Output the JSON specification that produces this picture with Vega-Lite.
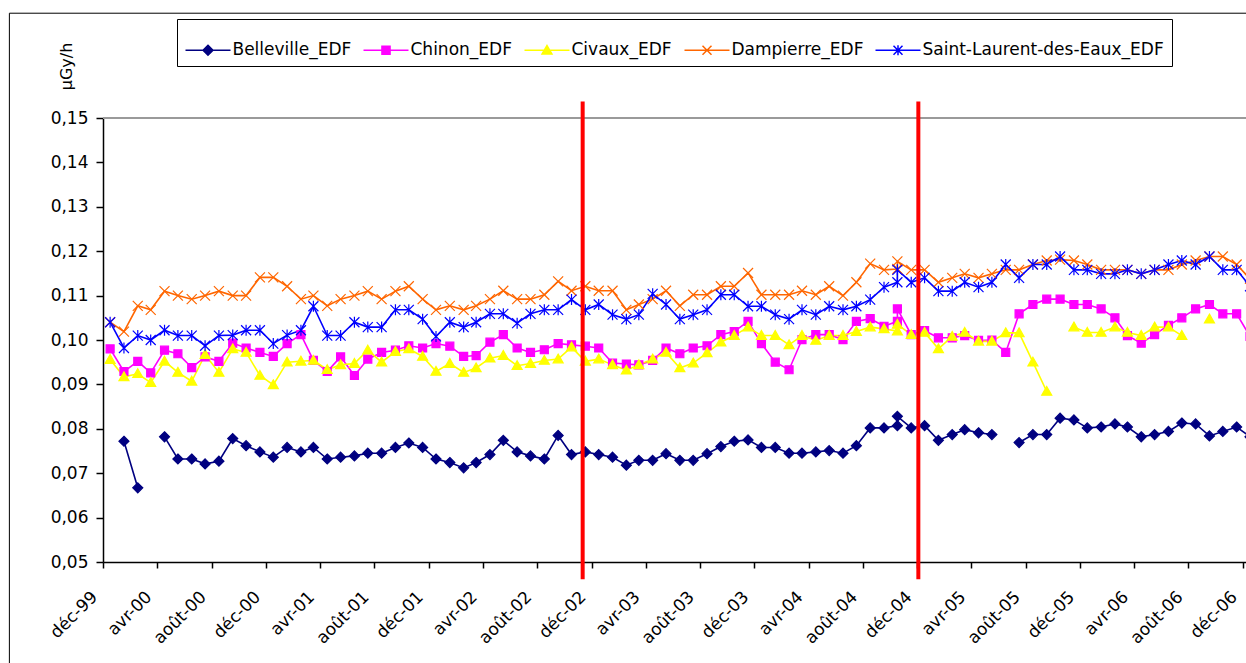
{
  "$schema": "https://vega.github.io/schema/vega-lite/v6.json",
  "width": 1143,
  "height": 444,
  "autosize": {"type": "none"},
  "padding": {"left": 103, "top": 118, "right": 0, "bottom": 101},
  "background": "white",
  "usermeta": {"embedOptions": {"actions": false}},
  "config": {"view": {"stroke": null}, "font": "DejaVu Sans"},
  "layer": [
    {
      "data": {"values": [{}]},
      "mark": {"type": "rect", "fill": "white", "fillOpacity": 0, "stroke": "black", "strokeWidth": 1, "clip": false},
      "encoding": {
        "x": {"datum": {"year": 1999, "month": 4, "date": 19}, "type": "temporal", "scale": {"domain": [{"year": 1999, "month": 11, "date": 15}, {"year": 2006, "month": 11, "date": 22}]}},
        "x2": {"datum": {"year": 2008, "month": 6, "date": 1}},
        "y": {"datum": 0.1736, "type": "quantitative", "scale": {"domain": [0.05, 0.15]}},
        "y2": {"datum": 0.0}
      }
    },
    {
      "data": {"values": [{}]},
      "mark": {"type": "rule", "color": "#9a9a9a", "strokeWidth": 2},
      "encoding": {
        "y": {"datum": 0.15, "type": "quantitative", "scale": {"domain": [0.05, 0.15]}}
      }
    },
    {
      "data": {"name": "main"},
      "transform": [{"fold": ["Belleville_EDF", "Chinon_EDF", "Civaux_EDF", "Dampierre_EDF", "Saint-Laurent-des-Eaux_EDF"], "as": ["station", "v"]}],
      "mark": {"type": "line", "strokeWidth": 1.6, "clip": true, "invalid": "break-paths-show-domains"},
      "encoding": {
        "x": {
          "field": "d", "type": "temporal", "title": null,
          "scale": {"domain": [{"year": 1999, "month": 11, "date": 15}, {"year": 2006, "month": 11, "date": 22}]},
          "axis": {
            "values": [
              {"year": 1999, "month": 11, "date": 15}, {"year": 2000, "month": 3, "date": 16}, {"year": 2000, "month": 7, "date": 16},
              {"year": 2000, "month": 11, "date": 15}, {"year": 2001, "month": 3, "date": 16}, {"year": 2001, "month": 7, "date": 16},
              {"year": 2001, "month": 11, "date": 15}, {"year": 2002, "month": 3, "date": 16}, {"year": 2002, "month": 7, "date": 16},
              {"year": 2002, "month": 11, "date": 15}, {"year": 2003, "month": 3, "date": 16}, {"year": 2003, "month": 7, "date": 16},
              {"year": 2003, "month": 11, "date": 15}, {"year": 2004, "month": 3, "date": 16}, {"year": 2004, "month": 7, "date": 16},
              {"year": 2004, "month": 11, "date": 15}, {"year": 2005, "month": 3, "date": 16}, {"year": 2005, "month": 7, "date": 16},
              {"year": 2005, "month": 11, "date": 15}, {"year": 2006, "month": 3, "date": 16}, {"year": 2006, "month": 7, "date": 16},
              {"year": 2006, "month": 11, "date": 15}
            ],
            "labelExpr": "['janv','févr','mars','avr','mai','juin','juil','août','sept','oct','nov','déc'][month(timeOffset('month', datum.value, 1))] + '-' + timeFormat(timeOffset('month', datum.value, 1), '%y')",
            "labelAngle": -45, "labelAlign": "right", "labelBaseline": "middle",
            "labelOffset": -8.7, "labelPadding": 26,
            "tickSize": 6, "tickWidth": 1.5, "tickColor": "black",
            "domainColor": "black", "domainWidth": 1.5,
            "labelFont": "DejaVu Sans", "labelFontSize": 17, "labelColor": "black",
            "labelFlush": false, "labelOverlap": false, "labelBound": false, "grid": false
          }
        },
        "y": {
          "field": "v", "type": "quantitative", "title": "µGy/h",
          "scale": {"domain": [0.05, 0.15]},
          "axis": {
            "values": [0.05, 0.06, 0.07, 0.08, 0.09, 0.10, 0.11, 0.12, 0.13, 0.14, 0.15],
            "labelExpr": "replace(format(datum.value, '.2f'), '.', ',')",
            "tickSize": 7, "tickWidth": 1.5, "tickColor": "black", "labelPadding": 8,
            "domainColor": "black", "domainWidth": 1.5,
            "labelFont": "DejaVu Sans", "labelFontSize": 17, "labelColor": "black",
            "labelFlush": false, "grid": false,
            "titleFont": "DejaVu Sans", "titleFontSize": 16, "titleFontWeight": "normal", "titleColor": "black",
            "titleAngle": -90, "titleX": -32, "titleY": -52, "titleAlign": "center", "titleBaseline": "alphabetic"
          }
        },
        "color": {
          "field": "station", "type": "nominal",
          "scale": {"domain": ["Belleville_EDF", "Chinon_EDF", "Civaux_EDF", "Dampierre_EDF", "Saint-Laurent-des-Eaux_EDF"], "range": ["#000080", "#FF00FF", "#FFFF00", "#FF6600", "#0000FF"]},
          "legend": {
            "orient": "none", "legendX": 74, "legendY": -99, "direction": "horizontal",
            "title": null, "strokeColor": "black", "fillColor": "white", "padding": 7.5,
            "symbolSize": 2025, "symbolStrokeWidth": 1.5,
            "labelFont": "DejaVu Sans", "labelFontSize": 17, "labelColor": "black", "labelOffset": 1, "labelLimit": 400,
            "columnPadding": 9,
            "encode": {
              "symbols": {
                "update": {
                  "shape": {"signal": "datum.value == 'Belleville_EDF' ? 'M-1,0H1M0,-0.22L0.22,0L0,0.22L-0.22,0Z' : datum.value == 'Chinon_EDF' ? 'M-1,0H1M-0.18,-0.18H0.18V0.18H-0.18Z' : datum.value == 'Civaux_EDF' ? 'M-1,0H1M0,-0.21L0.22,0.17L-0.22,0.17Z' : datum.value == 'Dampierre_EDF' ? 'M-1,0H1M-0.2,-0.2L0.2,0.2M-0.2,0.2L0.2,-0.2' : 'M-1,0H1M-0.2,-0.2L0.2,0.2M-0.2,0.2L0.2,-0.2M0,-0.22V0.22'"},
                  "stroke": {"signal": "datum.value == 'Belleville_EDF' ? '#000080' : datum.value == 'Chinon_EDF' ? '#FF00FF' : datum.value == 'Civaux_EDF' ? '#FFFF00' : datum.value == 'Dampierre_EDF' ? '#FF6600' : '#0000FF'"},
                  "fill": {"signal": "datum.value == 'Belleville_EDF' ? '#000080' : datum.value == 'Chinon_EDF' ? '#FF00FF' : datum.value == 'Civaux_EDF' ? '#FFFF00' : 'transparent'"},
                  "strokeWidth": {"value": 1.5},
                  "opacity": {"value": 1}
                }
              }
            }
          }
        }
      }
    },
    {
      "data": {"name": "main"},
      "transform": [{"fold": ["Belleville_EDF", "Chinon_EDF", "Civaux_EDF", "Dampierre_EDF", "Saint-Laurent-des-Eaux_EDF"], "as": ["series", "v"]}],
      "mark": {"type": "point", "filled": true, "size": 100, "strokeWidth": 1.2, "opacity": 1, "clip": true},
      "encoding": {
        "x": {"field": "d", "type": "temporal", "title": null, "scale": {"domain": [{"year": 1999, "month": 11, "date": 15}, {"year": 2006, "month": 11, "date": 22}]}},
        "y": {"field": "v", "type": "quantitative", "title": "µGy/h", "scale": {"domain": [0.05, 0.15]}},
        "fill": {
          "field": "series", "type": "nominal", "legend": null,
          "scale": {"domain": ["Saint-Laurent-des-Eaux_EDF", "Dampierre_EDF", "Civaux_EDF", "Chinon_EDF", "Belleville_EDF"], "range": ["#0000FF", "#FF6600", "#FFFF00", "#FF00FF", "#000080"]}
        },
        "stroke": {
          "field": "series", "type": "nominal", "legend": null,
          "scale": {"domain": ["Dampierre_EDF", "Saint-Laurent-des-Eaux_EDF", "Civaux_EDF", "Chinon_EDF", "Belleville_EDF"], "range": ["#FF6600", "#0000FF", "#FFFF00", "#FF00FF", "#000080"]}
        },
        "shape": {
          "field": "series", "type": "nominal", "legend": null,
          "scale": {"domain": ["Civaux_EDF", "Saint-Laurent-des-Eaux_EDF", "Dampierre_EDF", "Chinon_EDF", "Belleville_EDF"], "range": ["M0,-1L1,0.75L-1,0.75Z", "M-1,-1L1,1M-1,1L1,-1M0,-1.1V1.1", "M-1,-1L1,1M-1,1L1,-1", "M-0.8,-0.8H0.8V0.8H-0.8Z", "M0,-1L1,0L0,1L-1,0Z"]}
        }
      }
    },
    {
      "data": {"values": [{"d": "2002/10/26"}, {"d": "2004/11/17"}]},
      "mark": {"type": "rule", "color": "#FF0000", "strokeWidth": 4, "clip": false},
      "encoding": {
        "x": {"field": "d", "type": "temporal", "title": null, "scale": {"domain": [{"year": 1999, "month": 11, "date": 15}, {"year": 2006, "month": 11, "date": 22}]}},
        "y": {"datum": 0.1537, "type": "quantitative", "scale": {"domain": [0.05, 0.15]}},
        "y2": {"datum": 0.0461}
      }
    }
  ],
  "datasets": {
    "main": [
      {"d": "1999/12/01", "Belleville_EDF": null, "Chinon_EDF": 0.0980, "Civaux_EDF": 0.0956, "Dampierre_EDF": 0.1040, "Saint-Laurent-des-Eaux_EDF": 0.1040},
      {"d": "2000/01/01", "Belleville_EDF": 0.0772, "Chinon_EDF": 0.0929, "Civaux_EDF": 0.0917, "Dampierre_EDF": 0.1019, "Saint-Laurent-des-Eaux_EDF": 0.0982},
      {"d": "2000/02/01", "Belleville_EDF": 0.0667, "Chinon_EDF": 0.0952, "Civaux_EDF": 0.0924, "Dampierre_EDF": 0.1077, "Saint-Laurent-des-Eaux_EDF": 0.1010},
      {"d": "2000/03/01", "Belleville_EDF": null, "Chinon_EDF": 0.0926, "Civaux_EDF": 0.0904, "Dampierre_EDF": 0.1068, "Saint-Laurent-des-Eaux_EDF": 0.1000},
      {"d": "2000/04/01", "Belleville_EDF": 0.0782, "Chinon_EDF": 0.0977, "Civaux_EDF": 0.0952, "Dampierre_EDF": 0.1110, "Saint-Laurent-des-Eaux_EDF": 0.1022},
      {"d": "2000/05/01", "Belleville_EDF": 0.0732, "Chinon_EDF": 0.0969, "Civaux_EDF": 0.0927, "Dampierre_EDF": 0.1100, "Saint-Laurent-des-Eaux_EDF": 0.1010},
      {"d": "2000/06/01", "Belleville_EDF": 0.0732, "Chinon_EDF": 0.0938, "Civaux_EDF": 0.0907, "Dampierre_EDF": 0.1092, "Saint-Laurent-des-Eaux_EDF": 0.1010},
      {"d": "2000/07/01", "Belleville_EDF": 0.0721, "Chinon_EDF": 0.0962, "Civaux_EDF": 0.0967, "Dampierre_EDF": 0.1100, "Saint-Laurent-des-Eaux_EDF": 0.0987},
      {"d": "2000/08/01", "Belleville_EDF": 0.0727, "Chinon_EDF": 0.0952, "Civaux_EDF": 0.0927, "Dampierre_EDF": 0.1110, "Saint-Laurent-des-Eaux_EDF": 0.1010},
      {"d": "2000/09/01", "Belleville_EDF": 0.0778, "Chinon_EDF": 0.0993, "Civaux_EDF": 0.0980, "Dampierre_EDF": 0.1100, "Saint-Laurent-des-Eaux_EDF": 0.1011},
      {"d": "2000/10/01", "Belleville_EDF": 0.0762, "Chinon_EDF": 0.0982, "Civaux_EDF": 0.0972, "Dampierre_EDF": 0.1100, "Saint-Laurent-des-Eaux_EDF": 0.1022},
      {"d": "2000/11/01", "Belleville_EDF": 0.0748, "Chinon_EDF": 0.0972, "Civaux_EDF": 0.0920, "Dampierre_EDF": 0.1141, "Saint-Laurent-des-Eaux_EDF": 0.1022},
      {"d": "2000/12/01", "Belleville_EDF": 0.0736, "Chinon_EDF": 0.0963, "Civaux_EDF": 0.0899, "Dampierre_EDF": 0.1141, "Saint-Laurent-des-Eaux_EDF": 0.0992},
      {"d": "2001/01/01", "Belleville_EDF": 0.0758, "Chinon_EDF": 0.0992, "Civaux_EDF": 0.0950, "Dampierre_EDF": 0.1121, "Saint-Laurent-des-Eaux_EDF": 0.1011},
      {"d": "2001/02/01", "Belleville_EDF": 0.0748, "Chinon_EDF": 0.1012, "Civaux_EDF": 0.0952, "Dampierre_EDF": 0.1092, "Saint-Laurent-des-Eaux_EDF": 0.1022},
      {"d": "2001/03/01", "Belleville_EDF": 0.0758, "Chinon_EDF": 0.0954, "Civaux_EDF": 0.0954, "Dampierre_EDF": 0.1100, "Saint-Laurent-des-Eaux_EDF": 0.1076},
      {"d": "2001/04/01", "Belleville_EDF": 0.0732, "Chinon_EDF": 0.0929, "Civaux_EDF": 0.0933, "Dampierre_EDF": 0.1077, "Saint-Laurent-des-Eaux_EDF": 0.1010},
      {"d": "2001/05/01", "Belleville_EDF": 0.0736, "Chinon_EDF": 0.0962, "Civaux_EDF": 0.0944, "Dampierre_EDF": 0.1092, "Saint-Laurent-des-Eaux_EDF": 0.1010},
      {"d": "2001/06/01", "Belleville_EDF": 0.0739, "Chinon_EDF": 0.0920, "Civaux_EDF": 0.0947, "Dampierre_EDF": 0.1100, "Saint-Laurent-des-Eaux_EDF": 0.1040},
      {"d": "2001/07/01", "Belleville_EDF": 0.0745, "Chinon_EDF": 0.0957, "Civaux_EDF": 0.0977, "Dampierre_EDF": 0.1110, "Saint-Laurent-des-Eaux_EDF": 0.1029},
      {"d": "2001/08/01", "Belleville_EDF": 0.0745, "Chinon_EDF": 0.0972, "Civaux_EDF": 0.0950, "Dampierre_EDF": 0.1092, "Saint-Laurent-des-Eaux_EDF": 0.1029},
      {"d": "2001/09/01", "Belleville_EDF": 0.0758, "Chinon_EDF": 0.0977, "Civaux_EDF": 0.0974, "Dampierre_EDF": 0.1110, "Saint-Laurent-des-Eaux_EDF": 0.1068},
      {"d": "2001/10/01", "Belleville_EDF": 0.0768, "Chinon_EDF": 0.0987, "Civaux_EDF": 0.0980, "Dampierre_EDF": 0.1121, "Saint-Laurent-des-Eaux_EDF": 0.1068},
      {"d": "2001/11/01", "Belleville_EDF": 0.0758, "Chinon_EDF": 0.0982, "Civaux_EDF": 0.0963, "Dampierre_EDF": 0.1092, "Saint-Laurent-des-Eaux_EDF": 0.1047},
      {"d": "2001/12/01", "Belleville_EDF": 0.0732, "Chinon_EDF": 0.0992, "Civaux_EDF": 0.0929, "Dampierre_EDF": 0.1068, "Saint-Laurent-des-Eaux_EDF": 0.1008},
      {"d": "2002/01/01", "Belleville_EDF": 0.0724, "Chinon_EDF": 0.0986, "Civaux_EDF": 0.0947, "Dampierre_EDF": 0.1077, "Saint-Laurent-des-Eaux_EDF": 0.1040},
      {"d": "2002/02/01", "Belleville_EDF": 0.0712, "Chinon_EDF": 0.0963, "Civaux_EDF": 0.0927, "Dampierre_EDF": 0.1068, "Saint-Laurent-des-Eaux_EDF": 0.1029},
      {"d": "2002/03/01", "Belleville_EDF": 0.0724, "Chinon_EDF": 0.0965, "Civaux_EDF": 0.0937, "Dampierre_EDF": 0.1077, "Saint-Laurent-des-Eaux_EDF": 0.1040},
      {"d": "2002/04/01", "Belleville_EDF": 0.0742, "Chinon_EDF": 0.0995, "Civaux_EDF": 0.0959, "Dampierre_EDF": 0.1092, "Saint-Laurent-des-Eaux_EDF": 0.1059},
      {"d": "2002/05/01", "Belleville_EDF": 0.0774, "Chinon_EDF": 0.1012, "Civaux_EDF": 0.0965, "Dampierre_EDF": 0.1111, "Saint-Laurent-des-Eaux_EDF": 0.1059},
      {"d": "2002/06/01", "Belleville_EDF": 0.0748, "Chinon_EDF": 0.0982, "Civaux_EDF": 0.0942, "Dampierre_EDF": 0.1092, "Saint-Laurent-des-Eaux_EDF": 0.1038},
      {"d": "2002/07/01", "Belleville_EDF": 0.0739, "Chinon_EDF": 0.0972, "Civaux_EDF": 0.0947, "Dampierre_EDF": 0.1092, "Saint-Laurent-des-Eaux_EDF": 0.1059},
      {"d": "2002/08/01", "Belleville_EDF": 0.0732, "Chinon_EDF": 0.0978, "Civaux_EDF": 0.0954, "Dampierre_EDF": 0.1102, "Saint-Laurent-des-Eaux_EDF": 0.1068},
      {"d": "2002/09/01", "Belleville_EDF": 0.0785, "Chinon_EDF": 0.0992, "Civaux_EDF": 0.0957, "Dampierre_EDF": 0.1132, "Saint-Laurent-des-Eaux_EDF": 0.1068},
      {"d": "2002/10/01", "Belleville_EDF": 0.0742, "Chinon_EDF": 0.0989, "Civaux_EDF": 0.0984, "Dampierre_EDF": 0.1111, "Saint-Laurent-des-Eaux_EDF": 0.1091},
      {"d": "2002/11/01", "Belleville_EDF": 0.0748, "Chinon_EDF": 0.0986, "Civaux_EDF": 0.0952, "Dampierre_EDF": 0.1121, "Saint-Laurent-des-Eaux_EDF": 0.1068},
      {"d": "2002/12/01", "Belleville_EDF": 0.0742, "Chinon_EDF": 0.0982, "Civaux_EDF": 0.0957, "Dampierre_EDF": 0.1111, "Saint-Laurent-des-Eaux_EDF": 0.1080},
      {"d": "2003/01/01", "Belleville_EDF": 0.0736, "Chinon_EDF": 0.0948, "Civaux_EDF": 0.0944, "Dampierre_EDF": 0.1111, "Saint-Laurent-des-Eaux_EDF": 0.1057},
      {"d": "2003/02/01", "Belleville_EDF": 0.0718, "Chinon_EDF": 0.0946, "Civaux_EDF": 0.0932, "Dampierre_EDF": 0.1068, "Saint-Laurent-des-Eaux_EDF": 0.1047},
      {"d": "2003/03/01", "Belleville_EDF": 0.0729, "Chinon_EDF": 0.0944, "Civaux_EDF": 0.0944, "Dampierre_EDF": 0.1080, "Saint-Laurent-des-Eaux_EDF": 0.1057},
      {"d": "2003/04/01", "Belleville_EDF": 0.0729, "Chinon_EDF": 0.0954, "Civaux_EDF": 0.0957, "Dampierre_EDF": 0.1092, "Saint-Laurent-des-Eaux_EDF": 0.1104},
      {"d": "2003/05/01", "Belleville_EDF": 0.0744, "Chinon_EDF": 0.0982, "Civaux_EDF": 0.0972, "Dampierre_EDF": 0.1111, "Saint-Laurent-des-Eaux_EDF": 0.1080},
      {"d": "2003/06/01", "Belleville_EDF": 0.0729, "Chinon_EDF": 0.0969, "Civaux_EDF": 0.0937, "Dampierre_EDF": 0.1077, "Saint-Laurent-des-Eaux_EDF": 0.1047},
      {"d": "2003/07/01", "Belleville_EDF": 0.0729, "Chinon_EDF": 0.0982, "Civaux_EDF": 0.0948, "Dampierre_EDF": 0.1102, "Saint-Laurent-des-Eaux_EDF": 0.1057},
      {"d": "2003/08/01", "Belleville_EDF": 0.0744, "Chinon_EDF": 0.0987, "Civaux_EDF": 0.0971, "Dampierre_EDF": 0.1102, "Saint-Laurent-des-Eaux_EDF": 0.1068},
      {"d": "2003/09/01", "Belleville_EDF": 0.0760, "Chinon_EDF": 0.1012, "Civaux_EDF": 0.0995, "Dampierre_EDF": 0.1121, "Saint-Laurent-des-Eaux_EDF": 0.1102},
      {"d": "2003/10/01", "Belleville_EDF": 0.0772, "Chinon_EDF": 0.1019, "Civaux_EDF": 0.1010, "Dampierre_EDF": 0.1121, "Saint-Laurent-des-Eaux_EDF": 0.1102},
      {"d": "2003/11/01", "Belleville_EDF": 0.0775, "Chinon_EDF": 0.1042, "Civaux_EDF": 0.1029, "Dampierre_EDF": 0.1151, "Saint-Laurent-des-Eaux_EDF": 0.1076},
      {"d": "2003/12/01", "Belleville_EDF": 0.0758, "Chinon_EDF": 0.0992, "Civaux_EDF": 0.1010, "Dampierre_EDF": 0.1102, "Saint-Laurent-des-Eaux_EDF": 0.1076},
      {"d": "2004/01/01", "Belleville_EDF": 0.0758, "Chinon_EDF": 0.0950, "Civaux_EDF": 0.1010, "Dampierre_EDF": 0.1102, "Saint-Laurent-des-Eaux_EDF": 0.1057},
      {"d": "2004/02/01", "Belleville_EDF": 0.0745, "Chinon_EDF": 0.0933, "Civaux_EDF": 0.0989, "Dampierre_EDF": 0.1102, "Saint-Laurent-des-Eaux_EDF": 0.1047},
      {"d": "2004/03/01", "Belleville_EDF": 0.0745, "Chinon_EDF": 0.1001, "Civaux_EDF": 0.1010, "Dampierre_EDF": 0.1111, "Saint-Laurent-des-Eaux_EDF": 0.1068},
      {"d": "2004/04/01", "Belleville_EDF": 0.0748, "Chinon_EDF": 0.1012, "Civaux_EDF": 0.0999, "Dampierre_EDF": 0.1102, "Saint-Laurent-des-Eaux_EDF": 0.1057},
      {"d": "2004/05/01", "Belleville_EDF": 0.0751, "Chinon_EDF": 0.1012, "Civaux_EDF": 0.1010, "Dampierre_EDF": 0.1121, "Saint-Laurent-des-Eaux_EDF": 0.1076},
      {"d": "2004/06/01", "Belleville_EDF": 0.0745, "Chinon_EDF": 0.1001, "Civaux_EDF": 0.1010, "Dampierre_EDF": 0.1100, "Saint-Laurent-des-Eaux_EDF": 0.1068},
      {"d": "2004/07/01", "Belleville_EDF": 0.0762, "Chinon_EDF": 0.1042, "Civaux_EDF": 0.1019, "Dampierre_EDF": 0.1130, "Saint-Laurent-des-Eaux_EDF": 0.1076},
      {"d": "2004/08/01", "Belleville_EDF": 0.0802, "Chinon_EDF": 0.1048, "Civaux_EDF": 0.1029, "Dampierre_EDF": 0.1172, "Saint-Laurent-des-Eaux_EDF": 0.1091},
      {"d": "2004/09/01", "Belleville_EDF": 0.0802, "Chinon_EDF": 0.1031, "Civaux_EDF": 0.1025, "Dampierre_EDF": 0.1158, "Saint-Laurent-des-Eaux_EDF": 0.1119},
      {"d": "2004/10/01", "Belleville_EDF": 0.0807, "Chinon_EDF": 0.1042, "Civaux_EDF": 0.1020, "Dampierre_EDF": 0.1160, "Saint-Laurent-des-Eaux_EDF": 0.1130},
      {"d": "2004/10/01", "Belleville_EDF": 0.0828, "Chinon_EDF": 0.1070, "Civaux_EDF": 0.1035, "Dampierre_EDF": 0.1177, "Saint-Laurent-des-Eaux_EDF": 0.1158},
      {"d": "2004/11/01", "Belleville_EDF": 0.0802, "Chinon_EDF": 0.1012, "Civaux_EDF": 0.1012, "Dampierre_EDF": 0.1158, "Saint-Laurent-des-Eaux_EDF": 0.1130},
      {"d": "2004/12/01", "Belleville_EDF": 0.0807, "Chinon_EDF": 0.1021, "Civaux_EDF": 0.1017, "Dampierre_EDF": 0.1158, "Saint-Laurent-des-Eaux_EDF": 0.1140},
      {"d": "2005/01/01", "Belleville_EDF": 0.0774, "Chinon_EDF": 0.1005, "Civaux_EDF": 0.0980, "Dampierre_EDF": 0.1130, "Saint-Laurent-des-Eaux_EDF": 0.1110},
      {"d": "2005/02/01", "Belleville_EDF": 0.0787, "Chinon_EDF": 0.1005, "Civaux_EDF": 0.1008, "Dampierre_EDF": 0.1140, "Saint-Laurent-des-Eaux_EDF": 0.1110},
      {"d": "2005/03/01", "Belleville_EDF": 0.0798, "Chinon_EDF": 0.1010, "Civaux_EDF": 0.1017, "Dampierre_EDF": 0.1149, "Saint-Laurent-des-Eaux_EDF": 0.1130},
      {"d": "2005/04/01", "Belleville_EDF": 0.0791, "Chinon_EDF": 0.0999, "Civaux_EDF": 0.0997, "Dampierre_EDF": 0.1140, "Saint-Laurent-des-Eaux_EDF": 0.1119},
      {"d": "2005/05/01", "Belleville_EDF": 0.0787, "Chinon_EDF": 0.1000, "Civaux_EDF": 0.0997, "Dampierre_EDF": 0.1149, "Saint-Laurent-des-Eaux_EDF": 0.1130},
      {"d": "2005/06/01", "Belleville_EDF": null, "Chinon_EDF": 0.0972, "Civaux_EDF": 0.1016, "Dampierre_EDF": 0.1158, "Saint-Laurent-des-Eaux_EDF": 0.1170},
      {"d": "2005/07/01", "Belleville_EDF": 0.0769, "Chinon_EDF": 0.1059, "Civaux_EDF": 0.1016, "Dampierre_EDF": 0.1158, "Saint-Laurent-des-Eaux_EDF": 0.1140},
      {"d": "2005/08/01", "Belleville_EDF": 0.0787, "Chinon_EDF": 0.1080, "Civaux_EDF": 0.0950, "Dampierre_EDF": 0.1170, "Saint-Laurent-des-Eaux_EDF": 0.1170},
      {"d": "2005/09/01", "Belleville_EDF": 0.0787, "Chinon_EDF": 0.1092, "Civaux_EDF": 0.0884, "Dampierre_EDF": 0.1179, "Saint-Laurent-des-Eaux_EDF": 0.1170},
      {"d": "2005/10/01", "Belleville_EDF": 0.0824, "Chinon_EDF": 0.1092, "Civaux_EDF": null, "Dampierre_EDF": 0.1181, "Saint-Laurent-des-Eaux_EDF": 0.1188},
      {"d": "2005/11/01", "Belleville_EDF": 0.0820, "Chinon_EDF": 0.1080, "Civaux_EDF": 0.1029, "Dampierre_EDF": 0.1179, "Saint-Laurent-des-Eaux_EDF": 0.1158},
      {"d": "2005/12/01", "Belleville_EDF": 0.0802, "Chinon_EDF": 0.1080, "Civaux_EDF": 0.1017, "Dampierre_EDF": 0.1170, "Saint-Laurent-des-Eaux_EDF": 0.1158},
      {"d": "2006/01/01", "Belleville_EDF": 0.0804, "Chinon_EDF": 0.1070, "Civaux_EDF": 0.1017, "Dampierre_EDF": 0.1158, "Saint-Laurent-des-Eaux_EDF": 0.1149},
      {"d": "2006/02/01", "Belleville_EDF": 0.0811, "Chinon_EDF": 0.1050, "Civaux_EDF": 0.1029, "Dampierre_EDF": 0.1158, "Saint-Laurent-des-Eaux_EDF": 0.1149},
      {"d": "2006/03/01", "Belleville_EDF": 0.0804, "Chinon_EDF": 0.1010, "Civaux_EDF": 0.1017, "Dampierre_EDF": 0.1158, "Saint-Laurent-des-Eaux_EDF": 0.1158},
      {"d": "2006/04/01", "Belleville_EDF": 0.0782, "Chinon_EDF": 0.0993, "Civaux_EDF": 0.1010, "Dampierre_EDF": 0.1149, "Saint-Laurent-des-Eaux_EDF": 0.1149},
      {"d": "2006/05/01", "Belleville_EDF": 0.0787, "Chinon_EDF": 0.1012, "Civaux_EDF": 0.1029, "Dampierre_EDF": 0.1158, "Saint-Laurent-des-Eaux_EDF": 0.1158},
      {"d": "2006/06/01", "Belleville_EDF": 0.0794, "Chinon_EDF": 0.1033, "Civaux_EDF": 0.1029, "Dampierre_EDF": 0.1158, "Saint-Laurent-des-Eaux_EDF": 0.1170},
      {"d": "2006/07/01", "Belleville_EDF": 0.0813, "Chinon_EDF": 0.1050, "Civaux_EDF": 0.1010, "Dampierre_EDF": 0.1170, "Saint-Laurent-des-Eaux_EDF": 0.1179},
      {"d": "2006/08/01", "Belleville_EDF": 0.0811, "Chinon_EDF": 0.1070, "Civaux_EDF": null, "Dampierre_EDF": 0.1179, "Saint-Laurent-des-Eaux_EDF": 0.1170},
      {"d": "2006/09/01", "Belleville_EDF": 0.0784, "Chinon_EDF": 0.1080, "Civaux_EDF": 0.1047, "Dampierre_EDF": 0.1188, "Saint-Laurent-des-Eaux_EDF": 0.1188},
      {"d": "2006/10/01", "Belleville_EDF": 0.0794, "Chinon_EDF": 0.1059, "Civaux_EDF": null, "Dampierre_EDF": 0.1188, "Saint-Laurent-des-Eaux_EDF": 0.1158},
      {"d": "2006/11/01", "Belleville_EDF": 0.0804, "Chinon_EDF": 0.1059, "Civaux_EDF": null, "Dampierre_EDF": 0.1170, "Saint-Laurent-des-Eaux_EDF": 0.1158},
      {"d": "2006/12/01", "Belleville_EDF": 0.0782, "Chinon_EDF": 0.1008, "Civaux_EDF": null, "Dampierre_EDF": 0.1138, "Saint-Laurent-des-Eaux_EDF": 0.1121}
    ]
  }
}
